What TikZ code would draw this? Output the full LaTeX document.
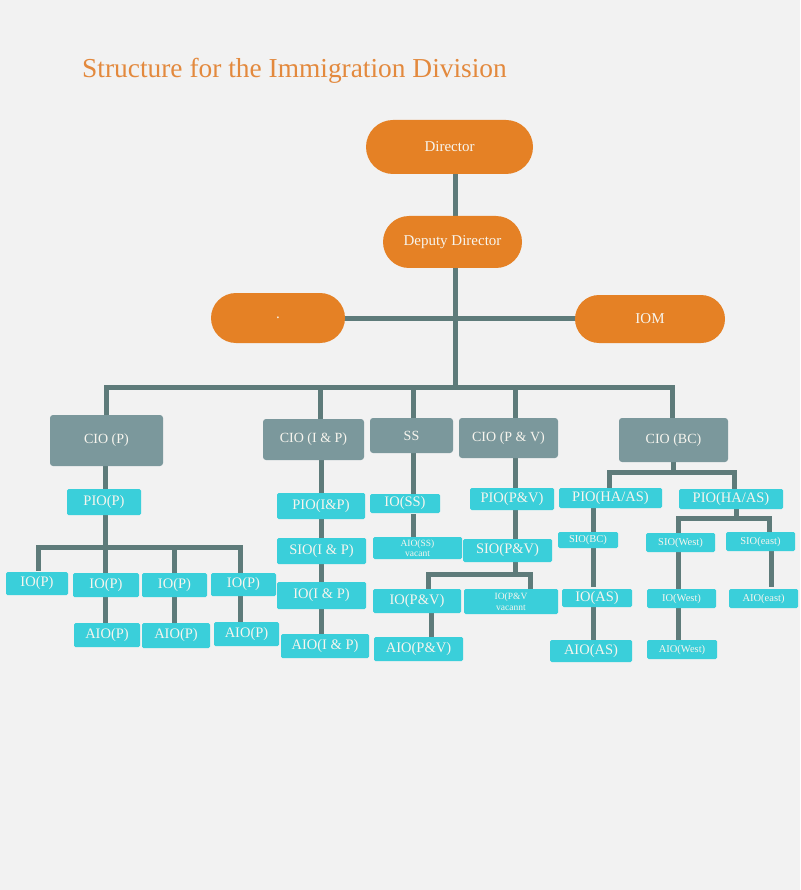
\documentclass[tikz,border=0pt]{standalone}
\usepackage{fontspec}
\setmainfont{Liberation Serif}
\usetikzlibrary{shapes.misc,backgrounds}
\definecolor{bg}{HTML}{F2F2F2}
\definecolor{orng}{HTML}{E58125}
\definecolor{titleC}{HTML}{E3893D}
\definecolor{grayC}{HTML}{7B989C}
\definecolor{cyanC}{HTML}{3ACFDA}
\definecolor{lineC}{HTML}{5E7B7A}
\definecolor{txt}{HTML}{F7F5EE}
\begin{document}
\begin{tikzpicture}[x=1pt,y=-1pt,
  pill/.style={rounded rectangle, fill=orng, text=txt, inner sep=0pt, font=\fontsize{15}{17}\selectfont},
  graybox/.style={rectangle, rounded corners=3pt, fill=grayC, text=txt, inner sep=0pt, font=\fontsize{14}{16}\selectfont},
  cbox/.style={rectangle, rounded corners=1.5pt, fill=cyanC, text=txt, inner sep=0pt, font=\fontsize{14.5}{16}\selectfont},
  sbox/.style={cbox, font=\fontsize{10.5}{12}\selectfont},
  tbox/.style={cbox, align=center, font=\fontsize{9.5}{10.5}\selectfont},
  conn/.style={draw=lineC, line width=5pt, line cap=rect},
  sz/.style 2 args={minimum width=#1pt, minimum height=#2pt}
]
\useasboundingbox (0,0) rectangle (800,890);

\node[anchor=base west, text=titleC, font=\fontsize{27.4}{30}\selectfont, inner sep=0pt] (title) at (82,78) {Structure for the Immigration Division};

% top pills
\node[pill, sz={167}{54}] (dir) at (449.5,147) {Director};
\node[pill, sz={139}{52}] (dep) at (452.5,242) {Deputy Director};
\node[pill, sz={134}{50}] (dot) at (278,318) {.};
\node[pill, sz={150}{48}] (iom) at (650,319) {IOM};

% gray boxes
\node[graybox, sz={113}{51}] (cioP) at (106.5,440.5) {CIO (P)};
\node[graybox, sz={101}{41}] (cioIP) at (313.5,439.5) {CIO (I \& P)};
\node[graybox, sz={83}{35}] (ss) at (411.5,435.5) {SS};
\node[graybox, sz={99}{40}] (cioPV) at (508.5,438) {CIO (P \& V)};
\node[graybox, sz={109}{44}] (cioBC) at (673.5,440) {CIO (BC)};

% left branch
\node[cbox, sz={74}{26}] (pioP) at (104,502) {PIO(P)};
\node[cbox, sz={62}{23}] (ioP1) at (37,583.5) {IO(P)};
\node[cbox, sz={66}{24}] (ioP2) at (106,585) {IO(P)};
\node[cbox, sz={65}{24}] (ioP3) at (174.5,585) {IO(P)};
\node[cbox, sz={65}{23}] (ioP4) at (243.5,584.5) {IO(P)};
\node[cbox, sz={66}{24}] (aioP2) at (107,635) {AIO(P)};
\node[cbox, sz={68}{25}] (aioP3) at (176,635.5) {AIO(P)};
\node[cbox, sz={65}{24}] (aioP4) at (246.5,634) {AIO(P)};

% I & P branch
\node[cbox, sz={88}{26}] (pioIP) at (321,506) {PIO(I\&P)};
\node[cbox, sz={89}{26}] (sioIP) at (321.5,551) {SIO(I \& P)};
\node[cbox, sz={89}{27}] (ioIP) at (321.5,595.5) {IO(I \& P)};
\node[cbox, sz={88}{24}] (aioIP) at (325,646) {AIO(I \& P)};

% SS branch
\node[cbox, sz={70}{19}] (ioSS) at (405,503.5) {IO(SS)};
\node[tbox, sz={89}{22}] (aioSS) at (417.5,548) {AIO(SS)\\vacant};

% P & V branch
\node[cbox, sz={84}{22}] (pioPV) at (512,499) {PIO(P\&V)};
\node[cbox, sz={89}{23}] (sioPV) at (507.5,550.5) {SIO(P\&V)};
\node[cbox, sz={88}{24}] (ioPV) at (417,601) {IO(P\&V)};
\node[tbox, sz={94}{25}] (ioPVv) at (511,601.5) {IO(P\&V\\vacannt};
\node[cbox, sz={89}{24}] (aioPV) at (418.5,649) {AIO(P\&V)};

% BC branch
\node[cbox, sz={103}{20}] (pioHA1) at (610.5,498) {PIO(HA/AS)};
\node[cbox, sz={104}{20}] (pioHA2) at (731,499) {PIO(HA/AS)};
\node[sbox, sz={60}{16}] (sioBC) at (588,540) {SIO(BC)};
\node[cbox, sz={70}{18}] (ioAS) at (597,598) {IO(AS)};
\node[cbox, sz={82}{22}] (aioAS) at (591,651) {AIO(AS)};
\node[sbox, sz={69}{19}] (sioW) at (680.5,542.5) {SIO(West)};
\node[sbox, sz={69}{19}] (sioE) at (760.5,541.5) {SIO(east)};
\node[sbox, sz={69}{19}] (ioW) at (681.5,598.5) {IO(West)};
\node[sbox, sz={69}{19}] (aioE) at (763.5,598.5) {AIO(east)};
\node[sbox, sz={70}{19}] (aioW) at (682,649.5) {AIO(West)};

\begin{scope}[on background layer]
\fill[bg] (0,0) rectangle (800,890);
% trunk
\coordinate (tr) at (455,318);
\coordinate (bP) at (106,387.5);
\coordinate (bIP) at (320.5,387.5);
\coordinate (bSS) at (413,387.5);
\coordinate (bPV) at (515,387.5);
\coordinate (bBC) at (672,387.5);
\draw[conn] (dir.south -| tr) -- (dep.north -| tr);
\draw[conn] (dep.south -| tr) -- (tr |- bP);
\draw[conn] (dot.east) -- (dot.east -| iom.west);
\draw[conn] (bP) -- (bBC);
\draw[conn] (bP) -- (bP |- cioP.north);
\draw[conn] (bIP) -- (bIP |- cioIP.north);
\draw[conn] (bSS) -- (bSS |- ss.north);
\draw[conn] (bPV) -- (bPV |- cioPV.north);
\draw[conn] (bBC) -- (bBC |- cioBC.north);
% left
\coordinate (xP) at (105,547);
\coordinate (d1) at (38,547);
\coordinate (d3) at (174,547);
\coordinate (d4) at (240,547);
\draw[conn] (cioP.south -| xP) -- (pioP.north -| xP);
\draw[conn] (pioP.south -| xP) -- (ioP2.north -| xP);
\draw[conn] (d1) -- (d4);
\draw[conn, shorten >=3pt] (d1) -- (d1 |- ioP1.north);
\draw[conn] (d3) -- (d3 |- ioP3.north);
\draw[conn] (d4) -- (d4 |- ioP4.north);
\draw[conn] (ioP2.south -| xP) -- (aioP2.north -| xP);
\draw[conn] (ioP3.south -| d3) -- (aioP3.north -| d3);
\draw[conn] (ioP4.south -| d4) -- (aioP4.north -| d4);
% I & P
\coordinate (xIP) at (321,0);
\draw[conn] (cioIP.south -| xIP) -- (aioIP.north -| xIP);
% SS
\coordinate (xSS) at (413,0);
\draw[conn] (ss.south -| xSS) -- (ioSS.north -| xSS);
\draw[conn, shorten <=3pt] (ioSS.south -| xSS) -- (aioSS.north -| xSS);
% P & V
\coordinate (pvJ) at (515,574);
\coordinate (pv1) at (428,574);
\coordinate (pv2) at (530,574);
\coordinate (xPV) at (431,0);
\draw[conn] (cioPV.south -| pvJ) -- (pvJ);
\draw[conn] (pv1) -- (pv2);
\draw[conn] (pv1) -- (pv1 |- ioPV.north);
\draw[conn] (pv2) -- (pv2 |- ioPVv.north);
\draw[conn] (ioPV.south -| xPV) -- (aioPV.north -| xPV);
% BC
\coordinate (bcJ) at (673,472);
\coordinate (bc1) at (609,472);
\coordinate (bc2) at (734,472);
\draw[conn] (cioBC.south -| bcJ) -- (bcJ);
\draw[conn] (bc1) -- (bc2);
\draw[conn] (bc1) -- (bc1 |- pioHA1.north);
\draw[conn] (bc2) -- (bc2 |- pioHA2.north);
\coordinate (xAS) at (593,0);
\draw[conn] (pioHA1.south -| xAS) -- (sioBC.north -| xAS);
\draw[conn, shorten >=4pt] (sioBC.south -| xAS) -- (ioAS.north -| xAS);
\draw[conn] (ioAS.south -| xAS) -- (aioAS.north -| xAS);
\coordinate (weJ) at (736,518);
\coordinate (we1) at (678,518);
\coordinate (we2) at (769,518);
\draw[conn] (pioHA2.south -| weJ) -- (weJ);
\draw[conn] (we1) -- (we2);
\draw[conn] (we1) -- (we1 |- sioW.north);
\draw[conn] (we2) -- (we2 |- sioE.north);
\coordinate (xW) at (678,0);
\draw[conn] (sioW.south -| xW) -- (aioW.north -| xW);
\coordinate (xE) at (771,0);
\draw[conn, shorten >=4pt] (sioE.south -| xE) -- (aioE.north -| xE);
\end{scope}
\end{tikzpicture}
\end{document}
